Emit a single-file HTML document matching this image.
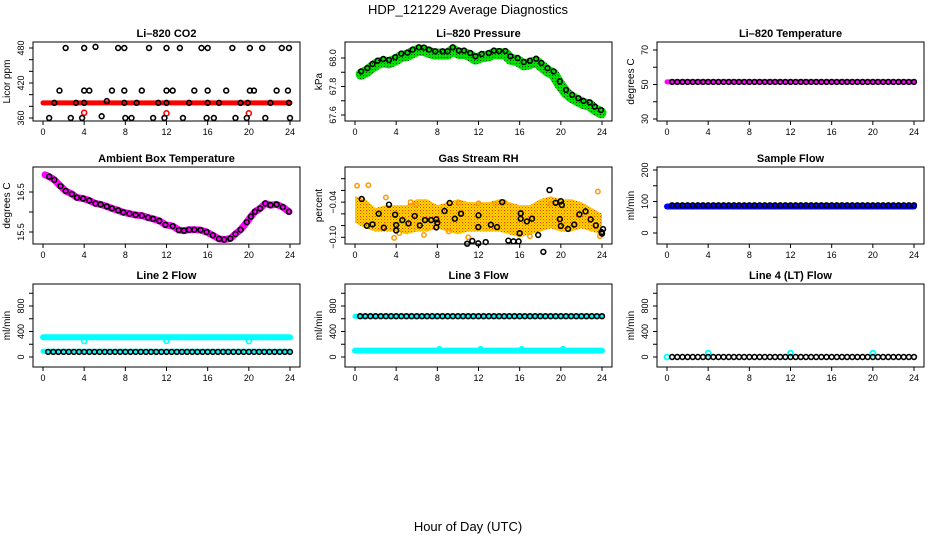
<!DOCTYPE html>
<html><head><meta charset="utf-8"><style>
html,body{margin:0;padding:0;background:#fff}
svg{display:block;font-family:"Liberation Sans",Arial,sans-serif}
</style></head><body>
<svg id="chart" width="936" height="540" viewBox="0 0 936 540" xmlns="http://www.w3.org/2000/svg">
<defs>
<pattern id="pg" width="3" height="3" patternUnits="userSpaceOnUse"><rect width="3" height="3" fill="#00e000"/><rect width="1" height="1" fill="#004400"/></pattern>
<pattern id="po" width="3" height="3" patternUnits="userSpaceOnUse"><rect width="3" height="3" fill="#ffd700"/><rect width="1" height="1" fill="#ff3300"/><rect x="1.5" y="1.5" width="1" height="1" fill="#ff6600"/></pattern>
</defs>
<text x="468" y="14" text-anchor="middle" font-size="13">HDP_121229  Average Diagnostics</text>
<text x="468" y="531" text-anchor="middle" font-size="13">Hour of Day (UTC)</text>
</svg>
<script>
// ---- data ----
const hours=[0.5,1,1.5,2,2.5,3,3.5,4,4.5,5,5.5,6,6.5,7,7.5,8,8.5,9,9.5,10,10.5,11,11.5,12,12.5,13,13.5,14,14.5,15,15.5,16,16.5,17,17.5,18,18.5,19,19.5,20,20.5,21,21.5,22,22.5,23,23.5,24];
const co2Hours=[2.2,4,5.1,7.3,7.9,10.3,12,13.3,15.4,16,18.4,20.1,21.3,23.2,23.9, 1.6,4,4.5,6.7,7.9,9.6,12,12.6,14.7,16,17.8,20.1,20.5,22.7,23.8, 1.1,3.2,4,6.2,7.9,9.1,11.2,12,14.2,16,17.1,19.2,19.9,22.1,23.9, 0.6,2.7,3.8,5.7,8,8.6,10.7,11.8,13.6,15.9,16.6,18.7,19.8,21.6,24];
const co2Vals=[480,480,482,480,480,480,480,480,480,480,480,480,480,480,480, 407,407,407,407,407,407,407,407,407,407,407,407,407,407,407, 386,386,386,389,386,386,386,386,386,386,386,386,386,386,386, 360,360,360,363,360,360,360,360,360,360,360,360,360,360,360];
const co2RedHours=[4,12,20];
const co2RedVals=[369,368,368];
const co2Level=386;
const pressHours=[0.6,1.2,1.7,2.2,2.75,3.3,3.9,4.5,5.1,5.6,6.2,6.7,7.2,7.8,8.5,9.0,9.5,10.1,10.6,11.2,11.7,12.3,13.0,13.5,14.0,14.6,15.1,15.8,16.4,17.0,17.6,18.1,18.7,19.3,19.9,20.5,21.1,21.7,22.2,22.8,23.3,23.9];
const pressVals=[67.906,67.929,67.958,67.981,67.993,67.986,68.005,68.031,68.038,68.059,68.075,68.073,68.059,68.047,68.047,68.047,68.075,68.052,68.052,68.035,68.012,68.028,68.035,68.052,68.049,68.049,68.012,68.0,67.972,67.981,67.995,67.965,67.929,67.906,67.835,67.776,67.741,67.718,67.699,67.689,67.659,67.635];
const tempLevel=51.5;
const ambHours=[0.6,1.1,1.7,2.2,2.8,3.3,3.9,4.5,5.1,5.6,6.2,6.7,7.3,7.8,8.4,9.0,9.6,10.2,10.7,11.3,11.9,12.6,13.2,13.7,14.2,14.7,15.3,15.9,16.5,17.1,17.6,18.2,18.7,19.2,19.8,20.2,20.6,21.1,21.6,22.1,22.7,23.3,23.9];
const ambVals=[16.885,16.803,16.648,16.525,16.451,16.361,16.336,16.287,16.213,16.189,16.139,16.090,16.041,15.992,15.959,15.926,15.910,15.861,15.828,15.779,15.680,15.648,15.549,15.533,15.557,15.557,15.549,15.500,15.418,15.328,15.311,15.336,15.451,15.557,15.746,15.885,16.008,16.090,16.213,16.172,16.189,16.123,16.008];
const rhHours=[0.65,1.15,1.7,2.3,2.8,3.3,3.9,4.0,4.0,4.6,5.2,5.8,6.3,6.8,7.4,7.9,7.9,8.0,8.7,9.2,9.7,10.3,10.9,11.4,11.98,12.0,11.98,12.7,13.2,13.8,14.3,14.9,15.4,15.9,16.0,16.1,16.1,16.7,17.2,17.8,18.3,18.9,19.5,20.0,19.9,20.1,20.0,20.7,21.3,21.8,22.4,22.9,23.4,23.95,24.1,24.0];
const rhVals=[-0.0346,-0.0803,-0.078,-0.0597,-0.0837,-0.0443,-0.0614,-0.0791,-0.0883,-0.0706,-0.0763,-0.0637,-0.0797,-0.0706,-0.0706,-0.0694,-0.0831,-0.0751,-0.0551,-0.0414,-0.0683,-0.0597,-0.1109,-0.1063,-0.1103,-0.0626,-0.0826,-0.1081,-0.0786,-0.0826,-0.04,-0.1057,-0.1069,-0.1069,-0.0931,-0.0683,-0.0591,-0.0729,-0.0683,-0.096,-0.1249,-0.0194,-0.0411,-0.0383,-0.0689,-0.0449,-0.0806,-0.0857,-0.0783,-0.0609,-0.0557,-0.0694,-0.0797,-0.0911,-0.086,-0.0937];
const rhBandHours=[0,1,2,3,4,5,6,7,8,9,10,11,12,13,14,15,16,17,18,19,20,21,22,23,24];
const rhUpper=[-0.03,-0.035,-0.05,-0.045,-0.045,-0.045,-0.035,-0.035,-0.045,-0.04,-0.035,-0.04,-0.04,-0.04,-0.035,-0.04,-0.045,-0.045,-0.035,-0.03,-0.035,-0.035,-0.04,-0.05,-0.06];
const rhLower=[-0.075,-0.085,-0.09,-0.09,-0.09,-0.095,-0.09,-0.09,-0.085,-0.09,-0.095,-0.09,-0.09,-0.09,-0.09,-0.095,-0.1,-0.095,-0.09,-0.085,-0.09,-0.09,-0.085,-0.09,-0.095];
const rhOutHours=[0.2,1.3,3.0,3.8,4.3,5.9,6.7,10.1,12.0,13.6,14.5,17.0,19.0,23.6,23.8,5.4,9.1,11.0];
const rhOutVals=[-0.012,-0.011,-0.032,-0.101,-0.093,-0.045,-0.096,-0.041,-0.042,-0.043,-0.04,-0.098,-0.043,-0.022,-0.098,-0.04,-0.09,-0.1];
const sampleLevel=88;
const line2Upper=310;
const line2Lower=90;
const line2Black=80;
const line2DipHours=[4,12,20];
const line2DipVals=[250,255,250];
const line3Black=640;
const line3Lower=100;
const line3BumpHours=[8.2,12.2,16.2,20.2];
const line3BumpVals=[125,125,125,125];
const line4Black=0;
const line4BlipHours=[0,4,12,20];
const line4BlipVals=[0,60,60,60];

// ---- layout ----
const NS="http://www.w3.org/2000/svg";
const svg=document.getElementById('chart');
function el(tag,attrs,parent){const e=document.createElementNS(NS,tag);for(const k in attrs)e.setAttribute(k,attrs[k]);(parent||svg).appendChild(e);return e;}
const cols=[{l:33,r:300,x0:43,x24:290},{l:345,r:612,x0:355,x24:602},{l:657,r:924,x0:667,x24:914}];
const rows=[{t:42,b:121},{t:167,b:244},{t:284,b:367}];
function makePanel(name,title,ytitle,ci,ri,refs,ticks,labels,dec){
  const c=cols[ci],r=rows[ri];
  const g=el('g',{});
  
  
  const X=h=>c.x0+h*(c.x24-c.x0)/24;
  const Y=v=>refs[0][1]+(v-refs[0][0])*(refs[1][1]-refs[0][1])/(refs[1][0]-refs[0][0]);
  const t=el('text',{x:(c.l+c.r)/2,y:r.t-5,'text-anchor':'middle','font-size':'11','font-weight':'bold'},g);
  t.textContent=title;
  
  
  const yt=el('text',{transform:`translate(${c.l-23},${(r.t+r.b)/2}) rotate(-90)`,'text-anchor':'middle','font-size':'10'},g);
  yt.textContent=ytitle;
  
  
  const xa=el('g',{},g);
  
  
  el('line',{x1:X(0),x2:X(24),y1:r.b,y2:r.b,stroke:'#000'},xa);
  for(let h=0;h<=24;h+=4){el('line',{x1:X(h),x2:X(h),y1:r.b,y2:r.b+4,stroke:'#000'},xa);
    const tl=el('text',{x:X(h),y:r.b+14,'text-anchor':'middle','font-size':'9'},xa);tl.textContent=h;}
  const ya=el('g',{},g);
  
  
  el('line',{x1:c.l,x2:c.l,y1:Y(ticks[0]),y2:Y(ticks[ticks.length-1]),stroke:'#000'},ya);
  ticks.forEach(v=>el('line',{x1:c.l-4,x2:c.l,y1:Y(v),y2:Y(v),stroke:'#000'},ya));
  labels.forEach(v=>{const tl=el('text',{transform:`translate(${c.l-9},${Y(v)}) rotate(-90)`,'text-anchor':'middle','font-size':'9'},ya);tl.textContent=v.toFixed(dec||0).replace('-','\u2212');});
  const plot=el('g',{},g);
  
  
  el('rect',{x:c.l,y:r.t,width:c.r-c.l,height:r.b-r.t,fill:'none',stroke:'#000'},g);
  return {X,Y,plot};
}
function circles(p,hs,vs,color,r,sw,name){
  const g=el('g',{},p.plot);
  
  
  hs.forEach((h,i)=>{const c=el('circle',{cx:p.X(h),cy:p.Y(vs[i]),r:r,fill:'none',stroke:color,'stroke-width':sw},g);
    
    });
}
function band(p,hs,vs,color,w,name){
  const l=el('polyline',{points:hs.map((h,i)=>p.X(h)+','+p.Y(vs[i])).join(' '),fill:'none',stroke:color,'stroke-width':w,'stroke-linejoin':'round','stroke-linecap':'round'},p.plot);
  
  
}
function flat(p,v,color,w,name,h0){band(p,[h0||0,24],[v,v],color,w,name);}
const blackR=2.4,blackW=1.6;

let p=makePanel('co2','Li\u2013820 CO2','Licor ppm',0,0,[[360,118],[480,48]],[360,380,400,420,440,460,480],[360,420,480]);
flat(p,co2Level,'#ff0000',5,'co2-red-band');
circles(p,co2RedHours,co2RedVals,'#ff0000',2.5,1.6,'co2-red-outliers');
circles(p,co2Hours,co2Vals,'#000',blackR,blackW,'co2-black-series');
p=makePanel('pressure','Li\u2013820 Pressure','kPa',1,0,[[67.6,115],[68.0,58]],[67.6,67.7,67.8,67.9,68.0],[67.6,67.8,68.0],1);
band(p,pressHours,pressVals.map(v=>v-0.02),'url(#pg)',11,'pressure-green-band');
circles(p,pressHours,pressVals,'#000',blackR,blackW,'pressure-black-series');
p=makePanel('li820-temperature','Li\u2013820 Temperature','degrees C',2,0,[[30,119],[70,50]],[30,40,50,60,70],[30,50,70]);
flat(p,tempLevel,'#ff00ff',5,'temperature-magenta-band');
circles(p,hours,hours.map(()=>tempLevel),'#000',blackR,blackW,'temperature-black-series');
p=makePanel('ambient','Ambient Box Temperature','degrees C',0,1,[[15.5,232],[16.5,192]],[15.5,16.0,16.5],[15.5,16.5],1);
band(p,[0.2].concat(ambHours),[16.93].concat(ambVals),'#ff00ff',7,'ambient-magenta-band');
circles(p,ambHours,ambVals,'#000',blackR,blackW,'ambient-black-series');
p=makePanel('gas-rh','Gas Stream RH','percent',1,1,[[-0.10,237.3],[0,178.7]],[-0.10,-0.08,-0.06,-0.04,-0.02,0],[-0.10,-0.04],2);
(function(){const pts=rhBandHours.map((h,i)=>p.X(h)+','+p.Y(rhUpper[i])).concat(rhBandHours.slice().reverse().map((h,i)=>p.X(h)+','+p.Y(rhLower[rhLower.length-1-i])));
 const poly=el('polygon',{points:pts.join(' '),fill:'url(#po)'},p.plot);
 
 })();
circles(p,rhOutHours,rhOutVals,'#ff9900',2.2,1.5,'rh-orange-outliers');
circles(p,rhHours,rhVals,'#000',blackR,blackW,'rh-black-series');
p=makePanel('sample-flow','Sample Flow','ml/min',2,1,[[0,233],[200,170]],[0,50,100,150,200],[0,100,200]);
flat(p,sampleLevel-4,'#0000ff',6,'sample-blue-band');
circles(p,hours,hours.map(()=>sampleLevel),'#000',blackR,blackW,'sample-black-series');
p=makePanel('line2','Line 2 Flow','ml/min',0,2,[[0,357],[800,306]],[0,200,400,600,800,1000],[0,400,800]);
flat(p,line2Upper,'#00ffff',6,'line2-cyan-upper');
circles(p,line2DipHours,line2DipVals,'#00ffff',2.5,1.6,'line2-cyan-dips');
flat(p,line2Lower,'#00ffff',5,'line2-cyan-lower');
circles(p,hours,hours.map(()=>line2Black),'#000',blackR,blackW,'line2-black-series');
p=makePanel('line3','Line 3 Flow','ml/min',1,2,[[0,357],[800,306]],[0,200,400,600,800,1000],[0,400,800]);
flat(p,line3Black,'#00ffff',5,'line3-cyan-upper');
flat(p,line3Lower,'#00ffff',6,'line3-cyan-lower');
circles(p,line3BumpHours,line3BumpVals,'#00ffff',2.3,1.6,'line3-cyan-bumps');
circles(p,hours,hours.map(()=>line3Black),'#000',blackR,blackW,'line3-black-series');
p=makePanel('line4','Line 4 (LT) Flow','ml/min',2,2,[[0,357],[800,306]],[0,200,400,600,800,1000],[0,400,800]);
circles(p,line4BlipHours,line4BlipVals,'#00ffff',2.5,1.8,'line4-cyan-points');
circles(p,hours,hours.map(()=>line4Black),'#000',blackR,blackW,'line4-black-series');
</script>
</body></html>
